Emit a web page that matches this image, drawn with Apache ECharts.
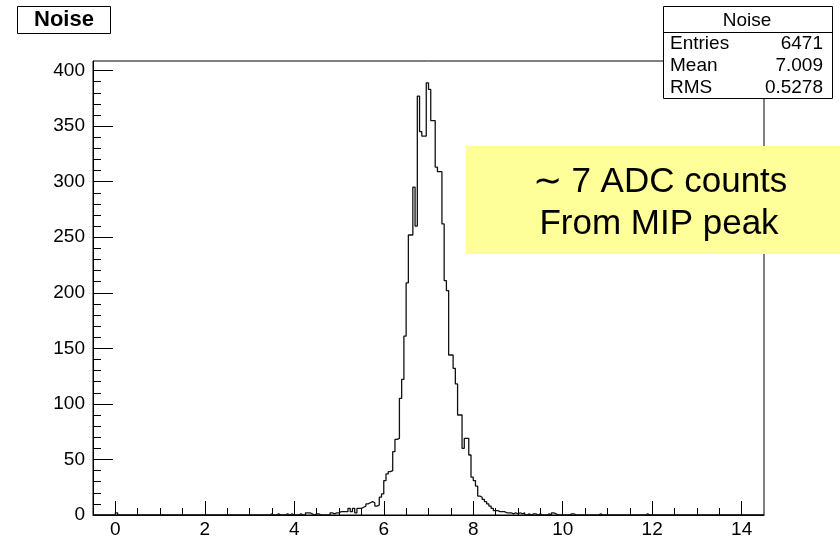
<!DOCTYPE html>
<html><head><meta charset="utf-8">
<script src="https://cdn.jsdelivr.net/npm/echarts@6/dist/echarts.min.js"></script>
<style>html,body{margin:0;padding:0;background:#fff}#c{width:840px;height:539px}</style>
</head><body><div id="c"></div>
<script>
// Histogram "Noise": 300 bins from -0.5 to 14.5 (bin width 0.05)
const binLow = -0.5;
const binWidth = 0.05;
const counts = [
  0,0,0,0,0,0,0,0,0,0, 2,0,0,0,0,0,0,0,0,0,
  0,0,0,0,0,0,0,0,0,0, 0,0,0,0,0,0,0,0,0,0,
  0,0,0,0,0,0,0,0,0,0, 0,0,0,0,0,0,0,0,0,0,
  0,0,0,0,0,0,0,0,0,0, 0,0,0,0,0,0,0,0,0,1,
  0,0,1,0,0,0,1,0,1,0, 0,0,1,0,0,2,2,1,0,1,
  1,0,0,0,0,0,2,1,2,2, 3,3,3,3,6,3,6,2,6,6,
  7,8,10,11,12,11,8,9,16,19, 31,37,39,40,57,68,69,105,122,161,
  209,252,252,295,260,377,345,341,341,389, 383,355,355,313,309,309,262,211,202,144,
  144,132,118,90,90,60,69,69,54,34, 31,26,17,16,14,12,10,8,6,4,
  4,3,3,3,2,2,2,1,2,1, 2,1,2,0,1,0,1,1,0,1,
  0,0,0,1,0,2,1,0,0,0, 0,0,0,1,1,0,0,0,0,0,
  0,0,0,0,0,0,1,0,0,0, 0,0,0,0,0,0,0,0,0,0,
  0,0,0,0,0,0,0,1,0,0, 0,0,0,0,0,0,0,0,0,0,
  0,0,0,0,0,0,0,0,0,0, 0,0,0,0,0,0,0,0,0,0,
  0,0,0,0,0,0,0,0,0,0, 0,0,0,0,0,0,0,0,0,0
];
const xMajorTicks = [0, 2, 4, 6, 8, 10, 12, 14];
const xMinorTicks = [0.5, 1, 1.5, 2.5, 3, 3.5, 4.5, 5, 5.5, 6.5, 7, 7.5, 8.5, 9, 9.5,
                     10.5, 11, 11.5, 12.5, 13, 13.5];
const yMajorTicks = [0, 50, 100, 150, 200, 250, 300, 350, 400];
const yMinorTicks = [10, 20, 30, 40, 60, 70, 80, 90, 110, 120, 130, 140, 160, 170, 180, 190,
                     210, 220, 230, 240, 260, 270, 280, 290, 310, 320, 330, 340, 360, 370, 380, 390];
const histTitle = 'Noise';
const statsTitle = 'Noise';
const statsRows = [['Entries', '6471'], ['Mean', '7.009'], ['RMS', '0.5278']];
const noteLines = ['\u223C 7 ADC counts', 'From MIP peak'];

const xMin = -0.5, xMax = 14.5, yMin = 0, yMax = 408.6;

const histData = counts.map((c, k) => [binLow + k * binWidth, c]);
histData.push([binLow + counts.length * binWidth, counts[counts.length - 1]]);

const FONT = '"Liberation Sans", Arial, Helvetica, sans-serif';
const INK = '#000';

const chart = echarts.init(document.getElementById('c'), null, {renderer: 'canvas'});

const statsGraphics = [];
const bx = 663.5, by = 6.5, bw = 169, bh = 92;
statsGraphics.push({type: 'rect', z: 50, shape: {x: bx, y: by, width: bw, height: bh},
  style: {fill: '#fff', stroke: INK, lineWidth: 1}});
statsGraphics.push({type: 'line', z: 51, shape: {x1: bx, y1: 32.5, x2: bx + bw, y2: 32.5},
  style: {stroke: INK, lineWidth: 1}});
statsGraphics.push({type: 'text', z: 52, style: {text: statsTitle, x: 747, y: 20.5, fill: INK,
  font: '19px ' + FONT, textAlign: 'center', textVerticalAlign: 'middle', verticalAlign: 'middle'}});
statsRows.forEach((r, i) => {
  const yy = 43.5 + i * 22.2;
  statsGraphics.push({type: 'text', z: 52, style: {text: r[0], x: 670, y: yy, fill: INK,
    font: '19px ' + FONT, textAlign: 'left', textVerticalAlign: 'middle', verticalAlign: 'middle'}});
  statsGraphics.push({type: 'text', z: 52, style: {text: r[1], x: 823, y: yy, fill: INK,
    font: '19px ' + FONT, textAlign: 'right', textVerticalAlign: 'middle', verticalAlign: 'middle'}});
});
const noteGraphics = [
  {type: 'rect', z: 60, shape: {x: 466, y: 146, width: 374, height: 108}, style: {fill: '#FFFF99'}},
  {type: 'text', z: 61, style: {text: noteLines[0], x: 660, y: 182, fill: INK, font: '35px ' + FONT,
    textAlign: 'center', textVerticalAlign: 'middle', verticalAlign: 'middle'}},
  {type: 'text', z: 61, style: {text: noteLines[1], x: 659, y: 224, fill: INK, font: '35px ' + FONT,
    textAlign: 'center', textVerticalAlign: 'middle', verticalAlign: 'middle'}}
];

const option = {
  animation: false,
  backgroundColor: '#fff',
  title: {
    text: histTitle, left: 17, top: 6, padding: [3, 17],
    borderColor: INK, borderWidth: 1, backgroundColor: '#fff',
    textStyle: {fontSize: 22, fontWeight: 'bold', color: INK, fontFamily: FONT}
  },
  grid: {left: 93, right: 76, top: 61, bottom: 22, show: true, borderColor: INK, borderWidth: 1,
    backgroundColor: 'transparent'},
  xAxis: [
    {type: 'value', min: xMin, max: xMax, position: 'bottom',
      axisLine: {show: true, onZero: false, lineStyle: {color: INK, width: 1}},
      axisTick: {show: true, inside: true, length: 14, customValues: xMajorTicks, lineStyle: {color: INK}},
      axisLabel: {show: true, customValues: xMajorTicks, margin: 5, color: INK, fontSize: 19, fontFamily: FONT},
      splitLine: {show: false}},
    {type: 'value', min: xMin, max: xMax, position: 'bottom',
      axisLine: {show: false, onZero: false},
      axisTick: {show: true, inside: true, length: 7, customValues: xMinorTicks, lineStyle: {color: INK}},
      axisLabel: {show: false},
      splitLine: {show: false}}
  ],
  yAxis: [
    {type: 'value', min: yMin, max: yMax, position: 'left',
      axisLine: {show: true, onZero: false, lineStyle: {color: INK, width: 1}},
      axisTick: {show: true, inside: true, length: 20, customValues: yMajorTicks, lineStyle: {color: INK}},
      axisLabel: {show: true, customValues: yMajorTicks, margin: 8, color: INK, fontSize: 19, fontFamily: FONT},
      splitLine: {show: false}},
    {type: 'value', min: yMin, max: yMax, position: 'left',
      axisLine: {show: false, onZero: false},
      axisTick: {show: true, inside: true, length: 8, customValues: yMinorTicks, lineStyle: {color: INK}},
      axisLabel: {show: false},
      splitLine: {show: false}}
  ],
  series: [{
    type: 'line', name: histTitle, xAxisIndex: 0, yAxisIndex: 0,
    data: histData, step: 'end', showSymbol: false, symbol: 'none',
    lineStyle: {color: '#111', width: 1.3}, clip: true, z: 5
  }],
  graphic: statsGraphics.concat(noteGraphics)
};
chart.setOption(option);
</script></body></html>
